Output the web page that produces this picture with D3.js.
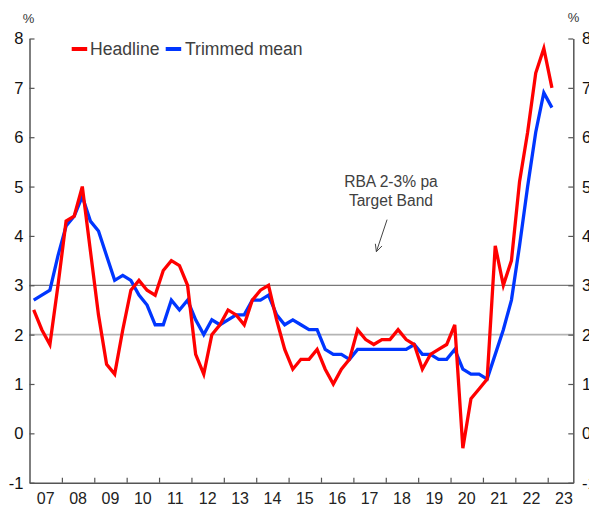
<!DOCTYPE html>
<html>
<head>
<meta charset="utf-8">
<script src="https://cdn.jsdelivr.net/npm/d3@7"></script>
<style>
  html, body { margin: 0; padding: 0; background: #fff; }
  svg { display: block; font-family: "Liberation Sans", Arial, sans-serif; }
</style>
</head>
<body>
<svg id="chart" width="589" height="507"></svg>
<script>
// ---- Data (year-ended %, quarterly Mar-2007 .. Mar-2023) ----
const quarters = [];
for (let yr = 2007; yr <= 2023; yr++) {
  for (let q = 0; q < 4; q++) {
    if (yr === 2023 && q > 0) break;
    quarters.push({ year: yr, q: q });
  }
}
const headline = [
  2.5, 2.1, 1.8, 3.0,
  4.3, 4.4, 5.0, 3.7,
  2.4, 1.4, 1.2, 2.1,
  2.9, 3.1, 2.9, 2.8,
  3.3, 3.5, 3.4, 3.0,
  1.6, 1.2, 2.0, 2.2,
  2.5, 2.4, 2.2, 2.7,
  2.9, 3.0, 2.3, 1.7,
  1.3, 1.5, 1.5, 1.7,
  1.3, 1.0, 1.3, 1.5,
  2.1, 1.9, 1.8, 1.9,
  1.9, 2.1, 1.9, 1.8,
  1.3, 1.6, 1.7, 1.8,
  2.2, -0.3, 0.7, 0.9,
  1.1, 3.8, 3.0, 3.5,
  5.1, 6.1, 7.3, 7.8,
  7.0
];
const trimmedMean = [
  2.7, 2.8, 2.9, 3.6,
  4.2, 4.4, 4.8, 4.3,
  4.1, 3.6, 3.1, 3.2,
  3.1, 2.8, 2.6, 2.2,
  2.2, 2.7, 2.5, 2.7,
  2.3, 2.0, 2.3, 2.2,
  2.3, 2.4, 2.4, 2.7,
  2.7, 2.8, 2.4, 2.2,
  2.3, 2.2, 2.1, 2.1,
  1.7, 1.6, 1.6, 1.5,
  1.7, 1.7, 1.7, 1.7,
  1.7, 1.7, 1.7, 1.8,
  1.6, 1.6, 1.5, 1.5,
  1.7, 1.3, 1.2, 1.2,
  1.1, 1.6, 2.1, 2.7,
  3.8, 5.0, 6.1, 6.9,
  6.6
];
const yTicks = [-1, 0, 1, 2, 3, 4, 5, 6, 7, 8];
const yearLabels = ["07","08","09","10","11","12","13","14","15","16","17","18","19","20","21","22","23"];
const targetBand = [2, 3];
const seriesNames = ["Headline", "Trimmed mean"];
const seriesColors = ["#ff0000", "#0036ff"];

// ---- Layout ----
const svg = d3.select("#chart");
const plotL = 29.5, plotR = 573.3, plotT = 38.5, plotB = 482.7;

const x = d3.scaleLinear().domain([2007, 2023.79]).range([plotL, plotR]);
const y = d3.scaleLinear().domain([-1, 8]).range([plotB, plotT]);
const dateOf = d => d.year + 0.13 + d.q * 0.25;

// Target band reference lines
svg.append("line")
  .attr("x1", plotL).attr("x2", plotR)
  .attr("y1", y(targetBand[1])).attr("y2", y(targetBand[1]))
  .attr("stroke", "#7a7a7a").attr("stroke-width", 1.2);
svg.append("line")
  .attr("x1", plotL).attr("x2", plotR)
  .attr("y1", y(targetBand[0])).attr("y2", y(targetBand[0]))
  .attr("stroke", "#b4b4b4").attr("stroke-width", 1.6);

// Axes
const fmt = v => (v < 0 ? "-" + Math.abs(v) : String(v));
const axisColor = "#555";

const gL = svg.append("g").attr("transform", `translate(${plotL},0)`)
  .call(d3.axisRight(y).tickValues(yTicks).tickSize(5).tickSizeOuter(0).tickFormat(""));
const gR = svg.append("g").attr("transform", `translate(${plotR},0)`)
  .call(d3.axisLeft(y).tickValues(yTicks).tickSize(5).tickSizeOuter(0).tickFormat(""));
const gB = svg.append("g").attr("transform", `translate(0,${plotB})`)
  .call(d3.axisTop(x).tickValues(d3.range(2008, 2024)).tickSize(5).tickSizeOuter(0).tickFormat(""));
[gL, gR, gB].forEach(g => {
  g.select(".domain").attr("stroke", axisColor).attr("stroke-width", 1.5);
  g.selectAll(".tick line").attr("stroke", axisColor).attr("stroke-width", 1.2);
});

// Y tick labels
svg.append("g").selectAll("text").data(yTicks).join("text")
  .attr("x", 23.5).attr("y", d => y(d)).attr("dy", "0.36em")
  .attr("text-anchor", "end").attr("font-size", 16.5).attr("fill", "#111")
  .text(fmt);
svg.append("g").selectAll("text").data(yTicks).join("text")
  .attr("x", 582).attr("y", d => y(d)).attr("dy", "0.36em")
  .attr("text-anchor", "start").attr("font-size", 16.5).attr("fill", "#111")
  .text(fmt);

// % units
svg.append("text").attr("x", 28.5).attr("y", 23).attr("text-anchor", "middle")
  .attr("font-size", 13).attr("fill", "#333").text("%");
svg.append("text").attr("x", 573.5).attr("y", 22).attr("text-anchor", "middle")
  .attr("font-size", 13).attr("fill", "#333").text("%");

// Year labels
svg.append("g").selectAll("text").data(yearLabels).join("text")
  .attr("x", (d, i) => x(2007 + i + 0.5)).attr("y", 504)
  .attr("text-anchor", "middle").attr("font-size", 16).attr("fill", "#222")
  .text(d => d);

// Lines (trimmed mean first, headline drawn on top)
const line = d3.line().x(d => x(d.t)).y(d => y(d.v));
[[trimmedMean, 1], [headline, 0]].forEach(([vals, si]) => {
  const pts = vals.map((v, i) => ({ t: dateOf(quarters[i]), v }));
  svg.append("path").datum(pts)
    .attr("d", line).attr("fill", "none")
    .attr("stroke", seriesColors[si]).attr("stroke-width", 3.3)
    .attr("stroke-linejoin", "miter");
});

// Legend
const legendItems = [
  { name: seriesNames[0], color: seriesColors[0], x0: 71.7, tx: 90 },
  { name: seriesNames[1], color: seriesColors[1], x0: 165.7, tx: 185 }
];
legendItems.forEach(it => {
  svg.append("line").attr("x1", it.x0).attr("x2", it.x0 + 15.5)
    .attr("y1", 49).attr("y2", 49)
    .attr("stroke", it.color).attr("stroke-width", 4);
  svg.append("text").attr("x", it.tx).attr("y", 55.3)
    .attr("font-size", 17.6).attr("fill", "#404040").text(it.name);
});

// Annotation
const ann = svg.append("g");
const ax = x(2018.16);
ann.append("text").attr("x", ax).attr("y", y(5.0))
  .attr("text-anchor", "middle").attr("font-size", 15.6).attr("fill", "#404040")
  .text("RBA 2-3% pa");
ann.append("text").attr("x", ax).attr("y", y(5.0) + 19)
  .attr("text-anchor", "middle").attr("font-size", 15.6).attr("fill", "#404040")
  .text("Target Band");
const a0 = [x(2018.04), y(4.33)], a1 = [x(2017.71), y(3.68)];
ann.append("line").attr("x1", a0[0]).attr("y1", a0[1]).attr("x2", a1[0]).attr("y2", a1[1])
  .attr("stroke", "#444").attr("stroke-width", 1);
const ang = Math.atan2(a1[1] - a0[1], a1[0] - a0[0]);
[-0.45, 0.45].forEach(da => {
  const L = 8;
  ann.append("line").attr("x1", a1[0]).attr("y1", a1[1])
    .attr("x2", a1[0] - L * Math.cos(ang + da)).attr("y2", a1[1] - L * Math.sin(ang + da))
    .attr("stroke", "#444").attr("stroke-width", 1);
});
</script>
</body>
</html>
